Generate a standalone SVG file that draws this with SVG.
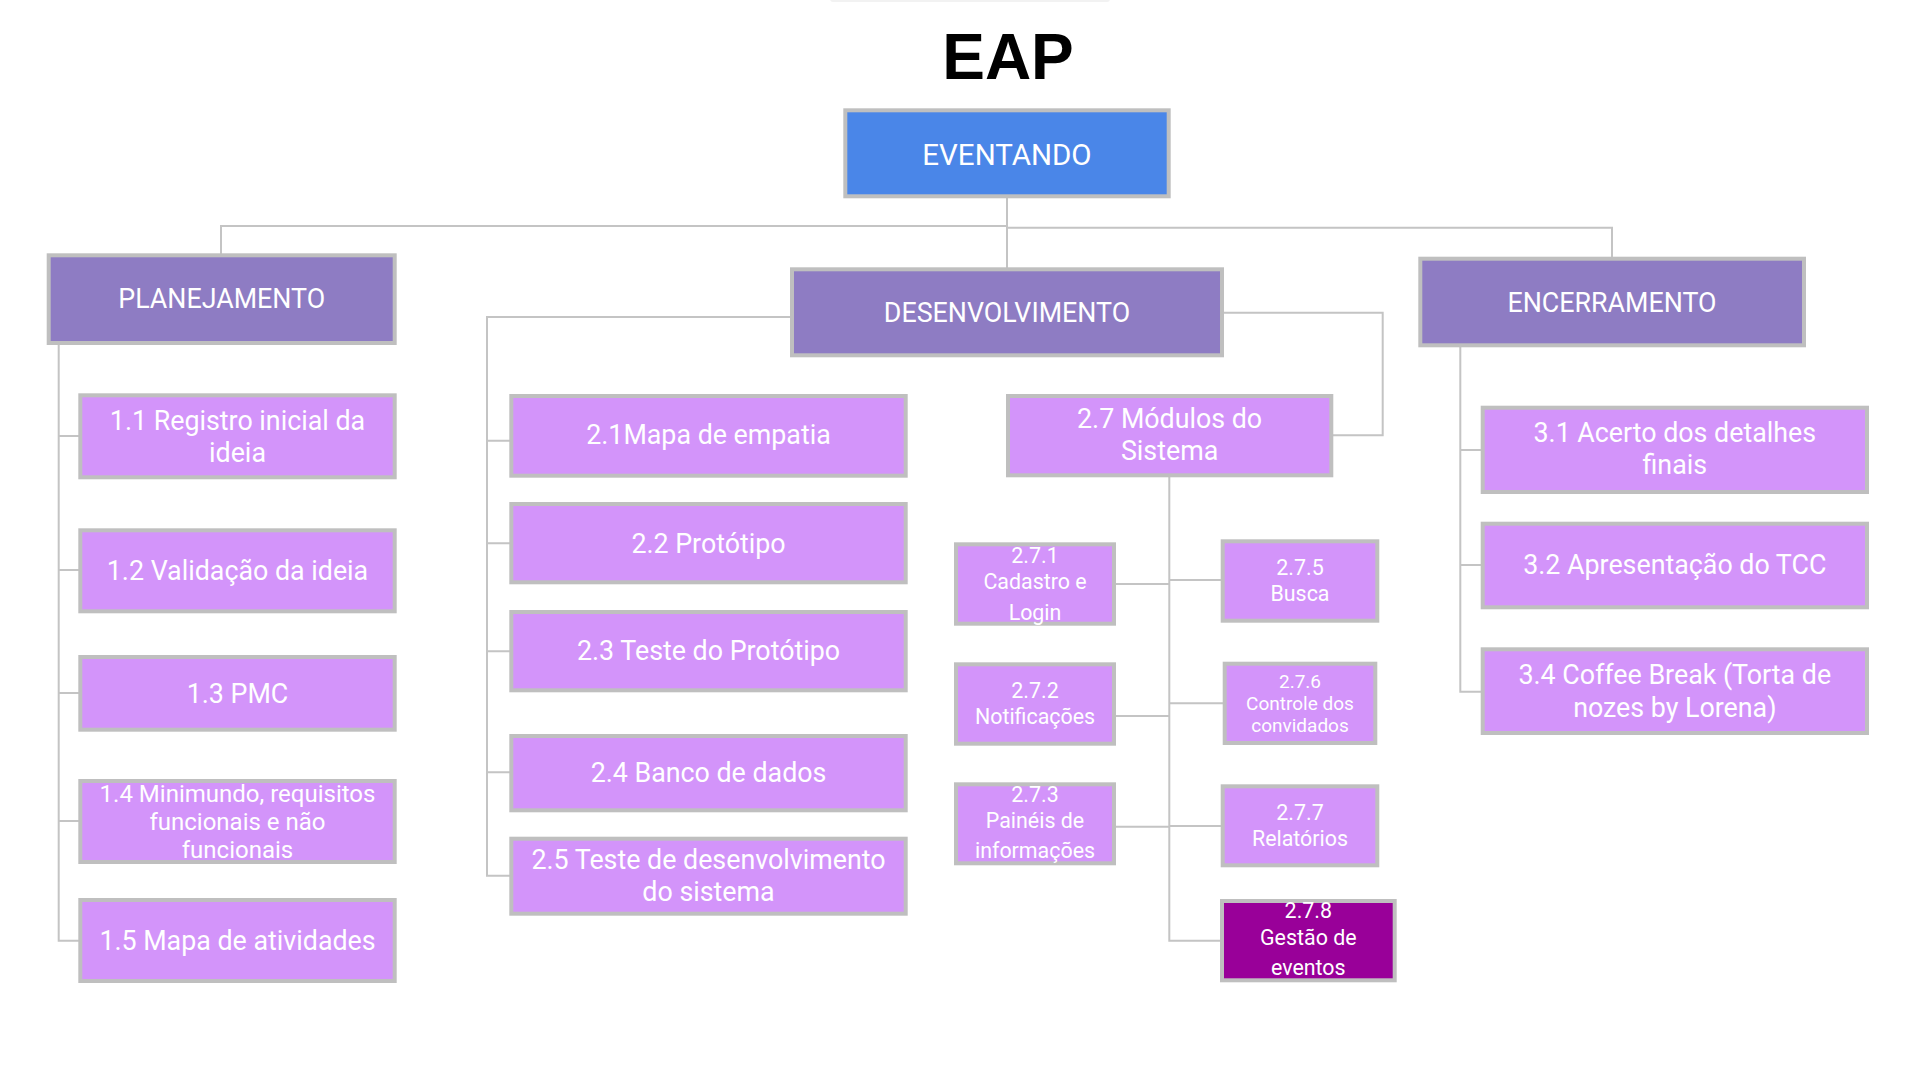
<svg xmlns="http://www.w3.org/2000/svg" width="1920" height="1080" viewBox="0 0 1920 1080">
<style>
.box{stroke:#bfbfbf;stroke-width:4}
.root{fill:#4a86e8}
.hdr{fill:#8e7cc3}
.leaf{fill:#d394fa}
.dark{fill:#990099}
.t{font-family:Roboto,"Noto Sans",sans-serif;fill:#ffffff;text-anchor:middle}
.t26{font-size:26.8px}
.t24{font-size:24px}
.t21{font-size:21.4px}
.t19{font-size:19px}
.conn{fill:none;stroke:#c4c4c4;stroke-width:2}
</style>
<rect width="1920" height="1080" fill="#ffffff"/>
<rect x="830" y="-4" width="280" height="6" rx="3" fill="#ececec" opacity="0.7"/>
<text x="1008" y="79" font-family="'Liberation Sans',Arial,sans-serif" font-weight="bold" font-size="64" text-anchor="middle" fill="#000000">EAP</text>

<g id="connectors" class="conn">
<path d="M1007 198V268"/>
<path d="M1007 226H221V254"/>
<path d="M1007 227.7H1612V257"/>
<path d="M58.7 329V940.7H79 M58.7 436H79 M58.7 570H79 M58.7 693H79 M58.7 821H79"/>
<path d="M790 317H487V875.7H510 M487 440.7H510 M487 543.3H510 M487 651.3H510 M487 772.3H510"/>
<path d="M1224 312.7H1382.7V435.3H1333"/>
<path d="M1169.3 477V940.7H1221 M1116 584H1169.3 M1116 716H1169.3 M1116 826.7H1169.3 M1169.3 580H1221 M1169.3 703.3H1223 M1169.3 826H1221"/>
<path d="M1460.3 347V691.7H1481 M1460.3 450H1481 M1460.3 565H1481"/>
</g>

<g id="eventando">
<rect class="box root" x="845.3" y="110.3" width="323.4" height="86"/>
<text class="t" x="1007" y="164.5" font-size="29.5">EVENTANDO</text>
</g>

<g id="planejamento">
<rect class="box hdr" x="48.7" y="255.3" width="346" height="87.7"/>
<text class="t t26" x="221.7" y="308.3">PLANEJAMENTO</text>
</g>
<g id="desenvolvimento">
<rect class="box hdr" x="792" y="269.3" width="430" height="86"/>
<text class="t t26" x="1007" y="321.7">DESENVOLVIMENTO</text>
</g>
<g id="encerramento">
<rect class="box hdr" x="1420.3" y="258.7" width="383.7" height="86.6"/>
<text class="t t26" x="1612" y="311.7">ENCERRAMENTO</text>
</g>

<g id="n1-1">
<rect class="box leaf" x="80.3" y="395.3" width="314.4" height="82"/>
<text class="t t26" x="237.5"><tspan x="237.5" y="430">1.1 Registro inicial da</tspan><tspan x="237.5" y="461.7">ideia</tspan></text>
</g>
<g id="n1-2">
<rect class="box leaf" x="80.3" y="530.3" width="314.4" height="81"/>
<text class="t t26" x="237.5" y="580">1.2 Validação da ideia</text>
</g>
<g id="n1-3">
<rect class="box leaf" x="80.3" y="657" width="314.4" height="72.7"/>
<text class="t t26" x="237.5" y="702.7">1.3 PMC</text>
</g>
<g id="n1-4">
<rect class="box leaf" x="80.3" y="781" width="314.4" height="81"/>
<text class="t t24" x="237.5"><tspan x="237.5" y="802.3">1.4 Minimundo, requisitos</tspan><tspan x="237.5" y="830">funcionais e não</tspan><tspan x="237.5" y="858.3">funcionais</tspan></text>
</g>
<g id="n1-5">
<rect class="box leaf" x="80.3" y="900" width="314.4" height="81"/>
<text class="t t26" x="237.5" y="950">1.5 Mapa de atividades</text>
</g>

<g id="n2-1">
<rect class="box leaf" x="511.3" y="396" width="394.4" height="79.7"/>
<text class="t t26" x="708.5" y="444.3">2.1Mapa de empatia</text>
</g>
<g id="n2-2">
<rect class="box leaf" x="511.3" y="504" width="394.4" height="78.3"/>
<text class="t t26" x="708.5" y="552.7">2.2 Protótipo</text>
</g>
<g id="n2-3">
<rect class="box leaf" x="511.3" y="612" width="394.4" height="78.3"/>
<text class="t t26" x="708.5" y="660">2.3 Teste do Protótipo</text>
</g>
<g id="n2-4">
<rect class="box leaf" x="511.3" y="736" width="394.4" height="74.3"/>
<text class="t t26" x="708.5" y="781.7">2.4 Banco de dados</text>
</g>
<g id="n2-5">
<rect class="box leaf" x="511.3" y="838.7" width="394.4" height="75"/>
<text class="t t26" x="708.5"><tspan x="708.5" y="869">2.5 Teste de desenvolvimento</tspan><tspan x="708.5" y="901">do sistema</tspan></text>
</g>

<g id="n2-7">
<rect class="box leaf" x="1008" y="396" width="323.3" height="79.3"/>
<text class="t t26" x="1169.6"><tspan x="1169.6" y="428.3">2.7 Módulos do</tspan><tspan x="1169.6" y="460">Sistema</tspan></text>
</g>
<g id="n2-7-1">
<rect class="box leaf" x="956" y="544.3" width="158" height="79.4"/>
<text class="t t21" x="1035"><tspan x="1035" y="563">2.7.1</tspan><tspan x="1035" y="589">Cadastro e</tspan><tspan x="1035" y="620">Login</tspan></text>
</g>
<g id="n2-7-2">
<rect class="box leaf" x="956" y="664.3" width="158" height="79.4"/>
<text class="t t21" x="1035"><tspan x="1035" y="698.3">2.7.2</tspan><tspan x="1035" y="724">Notificações</tspan></text>
</g>
<g id="n2-7-3">
<rect class="box leaf" x="956" y="784.3" width="158" height="79"/>
<text class="t t21" x="1035"><tspan x="1035" y="801.7">2.7.3</tspan><tspan x="1035" y="828.3">Painéis de</tspan><tspan x="1035" y="858.3">informações</tspan></text>
</g>
<g id="n2-7-5">
<rect class="box leaf" x="1222.7" y="541.3" width="154.6" height="79.4"/>
<text class="t t21" x="1300"><tspan x="1300" y="575">2.7.5</tspan><tspan x="1300" y="601">Busca</tspan></text>
</g>
<g id="n2-7-6">
<rect class="box leaf" x="1224.7" y="663.7" width="150.6" height="79.3"/>
<text class="t t19" x="1300"><tspan x="1300" y="688.3">2.7.6</tspan><tspan x="1300" y="710">Controle dos</tspan><tspan x="1300" y="731.7">convidados</tspan></text>
</g>
<g id="n2-7-7">
<rect class="box leaf" x="1222.7" y="786.3" width="154.6" height="79"/>
<text class="t t21" x="1300"><tspan x="1300" y="820">2.7.7</tspan><tspan x="1300" y="846">Relatórios</tspan></text>
</g>
<g id="n2-7-8">
<rect class="box dark" x="1222" y="901" width="172.7" height="79.3"/>
<text class="t t21" x="1308.3"><tspan x="1308.3" y="918.3">2.7.8</tspan><tspan x="1308.3" y="945">Gestão de</tspan><tspan x="1308.3" y="975">eventos</tspan></text>
</g>

<g id="n3-1">
<rect class="box leaf" x="1482.7" y="407.7" width="384.3" height="84.3"/>
<text class="t t26" x="1674.8"><tspan x="1674.8" y="442.3">3.1 Acerto dos detalhes</tspan><tspan x="1674.8" y="474.3">finais</tspan></text>
</g>
<g id="n3-2">
<rect class="box leaf" x="1482.7" y="523.7" width="384.3" height="83.6"/>
<text class="t t26" x="1674.8" y="574.3">3.2 Apresentação do TCC</text>
</g>
<g id="n3-4">
<rect class="box leaf" x="1482.7" y="649.3" width="384.3" height="83.7"/>
<text class="t t26" x="1674.8"><tspan x="1674.8" y="684.3">3.4 Coffee Break (Torta de</tspan><tspan x="1674.8" y="716.7">nozes by Lorena)</tspan></text>
</g>
</svg>
